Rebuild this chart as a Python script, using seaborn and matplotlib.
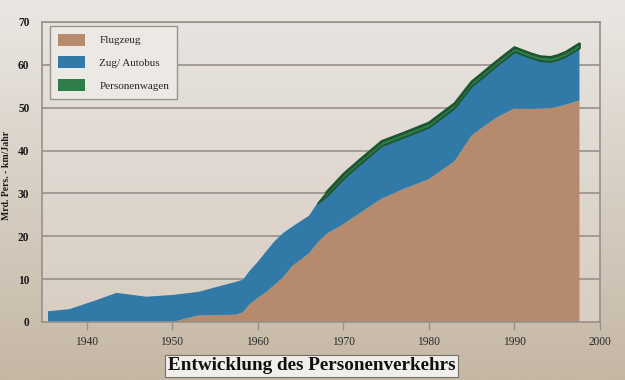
import numpy as np
import matplotlib
matplotlib.use('Agg')
import matplotlib.pyplot as plt
from matplotlib.patches import Patch
import seaborn as sns

# Werte (Mrd. Pers.-km/Jahr)
years = np.array([1935.5, 1938, 1941, 1943.5, 1947, 1950, 1953, 1957.5, 1958.3, 1959,
                  1960, 1961, 1962, 1963, 1964, 1965, 1966, 1967, 1968, 1970,
                  1972, 1974.5, 1977, 1980, 1983, 1985, 1986, 1988, 1990, 1992,
                  1993, 1994.2, 1995, 1996, 1997.6])
flugzeug = np.array([0, 0, 0, 0, 0, 0, 1.5, 1.7, 2.3, 4.0,
                     5.6, 7.0, 8.7, 10.5, 13.0, 14.5, 16.0, 18.5, 20.5, 22.8,
                     25.5, 28.8, 31.0, 33.3, 37.5, 43.5, 45.0, 47.8, 49.8, 49.7,
                     49.8, 49.9, 50.2, 50.7, 51.7])
zug_autobus = np.array([2.5, 3.0, 5.0, 6.8, 5.9, 6.3, 5.5, 7.7, 7.6, 7.8,
                        8.4, 9.5, 10.2, 10.3, 9.2, 9.0, 8.8, 9.3, 8.8, 10.7,
                        11.5, 12.4, 12.1, 12.2, 12.5, 11.6, 11.7, 12.2, 13.3, 11.9,
                        11.2, 10.9, 11.0, 11.3, 12.3])
personenwagen = np.array([0, 0, 0, 0, 0, 0, 0, 0, 0, 0,
                          0, 0, 0, 0, 0, 0, 0, 0, 0.9, 1.0,
                          1.0, 1.0, 1.0, 1.0, 1.0, 1.0, 1.0, 1.0, 1.0, 1.0,
                          1.0, 1.0, 1.0, 1.0, 1.0])
labels = ['Flugzeug', 'Zug/ Autobus', 'Personenwagen']
xticks = [1940, 1950, 1960, 1970, 1980, 1990, 2000]
yticks = [0, 10, 20, 30, 40, 50, 60, 70]

# Farben
c_braun = '#b68b6d'
c_blau = '#3179a6'
c_gruen = '#2f7d4b'
c_gruen_rand = '#1d5530'
c_linie = '#98908a'

sns.set_theme(style='white')
plt.rcParams['font.family'] = ['Liberation Serif', 'DejaVu Serif']

fig = plt.figure(figsize=(6.25, 3.8), dpi=100)

# Hintergrund mit Verlauf
bg = fig.add_axes([0, 0, 1, 1], zorder=-10)
grad = np.linspace(0, 1, 256)[:, None]
top_c = np.array([234, 231, 227]) / 255
bot_c = np.array([197, 183, 164]) / 255
img = top_c[None, None, :] * (1 - grad[:, :, None]) + bot_c[None, None, :] * grad[:, :, None]
bg.imshow(img, aspect='auto', extent=(0, 1, 0, 1))
bg.axis('off')

ax = fig.add_axes([42 / 625, 1 - 322 / 380, 558 / 625, 300 / 380])

# Hintergrund der Zeichenfläche
ptop = np.array([231, 227, 223]) / 255
pbot = np.array([216, 206, 194]) / 255
pimg = ptop[None, None, :] * (1 - grad[:, :, None]) + pbot[None, None, :] * grad[:, :, None]
ax.imshow(pimg, aspect='auto', extent=(1934.8, 2000, 0, 70), zorder=0)
ax.set_xlim(1934.8, 2000)
ax.set_ylim(0, 70)

for y in yticks[1:]:
    ax.axhline(y, color=c_linie, lw=1.2, zorder=1)

# gestapelte Flächen
ax.stackplot(years, flugzeug, zug_autobus, colors=[c_braun, c_blau],
             edgecolor='none', linewidth=0, zorder=2)

blau_oben = flugzeug + zug_autobus
gruen_oben = blau_oben + personenwagen
m = years >= 1967
ax.fill_between(years[m], blau_oben[m], gruen_oben[m], facecolor=c_gruen,
                edgecolor=c_gruen_rand, lw=1.3, zorder=3)
sns.lineplot(x=years[m][1:], y=gruen_oben[m][1:], color=c_gruen_rand, lw=1.6, ax=ax, zorder=4)

# Achsen
for side in ['left', 'bottom', 'right', 'top']:
    ax.spines[side].set_color(c_linie)
    ax.spines[side].set_linewidth(1.2)
ax.set_xticks(xticks)
ax.set_yticks(yticks)
ax.tick_params(axis='x', direction='out', length=6, width=1, color=c_linie,
               pad=4, labelsize=8.3, labelcolor='#2a2a2a', bottom=True)
ax.tick_params(axis='y', length=0, pad=9, labelsize=8.3, labelcolor='#1a1a1a')
for t in ax.get_yticklabels():
    t.set_fontweight('bold')
ax.set_xlabel('')
ax.set_ylabel('Mrd. Pers. - km/Jahr', fontsize=7, fontweight='bold', color='#1a1a1a')
ax.yaxis.set_label_coords(-0.056, 0.49)

# Legende
handles = [Patch(facecolor=c_braun, edgecolor='none'),
           Patch(facecolor=c_blau, edgecolor='none'),
           Patch(facecolor=c_gruen, edgecolor='none')]
leg = ax.legend(handles, labels, loc='upper left', bbox_to_anchor=(0.014, 0.987),
                borderaxespad=0, fontsize=8, frameon=True, fancybox=False,
                handlelength=2.45, handleheight=1.3, handletextpad=1.3,
                labelspacing=0.95, borderpad=0.7)
leg.get_frame().set_facecolor('#ece9e5')
leg.get_frame().set_edgecolor('#9b948d')
leg.get_frame().set_linewidth(1.0)
leg.get_frame().set_alpha(1)
leg.set_zorder(5)

# Titel
fig.text(311.5 / 625, 1 - 366 / 380, 'Entwicklung des Personenverkehrs',
         ha='center', va='center', fontsize=13.8, fontweight='bold', color='#111111',
         bbox=dict(boxstyle='square,pad=0.12', facecolor='#f1efec', edgecolor='#77706a', lw=0.8))

fig.savefig('out.png', dpi=100)
